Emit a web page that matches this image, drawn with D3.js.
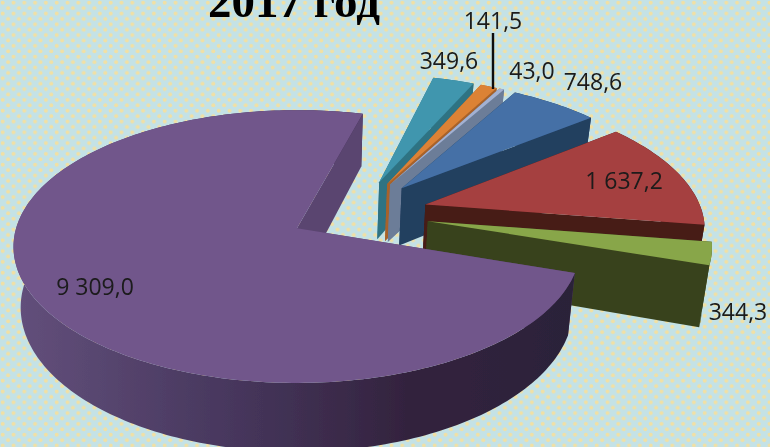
<!DOCTYPE html>
<html><head><meta charset="utf-8">
<script src="https://cdn.jsdelivr.net/npm/d3@7/dist/d3.min.js"></script>
<style>html,body{margin:0;padding:0;background:#c4e2e6;overflow:hidden}svg{display:block}</style>
</head><body>
<svg id="c" width="770" height="447"></svg>
<script>
// ---- data, clockwise order of the pie
const categories = ["a","b","c","d","e","f","g"];
const values = [9309.0, 349.6, 141.5, 43.0, 748.6, 1637.2, 344.3];
const titleText = "2017 год";

// ---- styles and layout
const topColors  = ["#71568b","#3f96ae","#dc8236","#a3b1d2","#4470a6","#a5403f","#88a64a"];
const wallColors = ["#5a4470","#2f7383","#a8622a","#6c7d98","#233f5f","#471b18","#39431c"];
const explodeBy  = [0.245,0.26,0.26,0.26,0.26,0.26,0.26];
const drawOrder = [1,2,3,4,5,6,0];
const labelPos = [[95,287],[449,61],[493,21],[532,71],[593,82],[624,181],[738,312]];

const W=770,H=447, cx=301, cy=234, Rx=282.5, Ry=135.5, k=0.135, depth=60, shrink=0.975;
const center=[0.202,-0.158];
const startDeg=108.7;

const svg=d3.select("#c");
const defs=svg.append("defs");
const pat=defs.append("pattern").attr("id","dots").attr("patternUnits","userSpaceOnUse")
  .attr("width",10.8).attr("height",10.8);
pat.append("rect").attr("width",10.8).attr("height",10.8).attr("fill","#c4e2e6");
[[2.7,2.7],[8.1,8.1]].forEach(p=>pat.append("circle").attr("cx",p[0]).attr("cy",p[1]).attr("r",2).attr("fill","#f1e0a4"));
defs.append("filter").attr("id","soft").attr("x","-5%").attr("y","-5%").attr("width","110%").attr("height","110%")
  .append("feGaussianBlur").attr("stdDeviation",0.6);
const grad=defs.append("linearGradient").attr("id","purpleWall").attr("gradientUnits","userSpaceOnUse")
  .attr("x1",12).attr("x2",575).attr("y1",0).attr("y2",0);
[[0,"#63507c"],[0.4,"#46365c"],[0.7,"#33233e"],[1,"#2b2139"]].forEach(s=>grad.append("stop").attr("offset",s[0]).attr("stop-color",s[1]));

svg.append("rect").attr("width",W).attr("height",H).attr("fill","url(#dots)");
const root=svg.append("g").attr("filter","url(#soft)");

function project(u,v){const s=1/(1-k*v);return {x:cx+Rx*u*s,y:cy+Ry*v*s,s};}
function lower(p){return {x:cx+(p.x-cx)*shrink,y:p.y+depth*p.s};}
const line=d3.line().x(d=>d.x).y(d=>d.y);

const pie=d3.pie().sort(null).startAngle(startDeg*Math.PI/180).endAngle((startDeg+360)*Math.PI/180);
const arcs=pie(values);

const slices=drawOrder.map(i=>{
  const a=arcs[i], mid=(a.startAngle+a.endAngle)/2;
  const ax=center[0]+explodeBy[i]*Math.sin(mid), ay=center[1]-explodeBy[i]*Math.cos(mid);
  const n=Math.max(4,Math.ceil((a.endAngle-a.startAngle)/0.02));
  const rim=d3.range(n+1).map(j=>{
    const t=a.startAngle+(a.endAngle-a.startAngle)*j/n;
    return project(ax+Math.sin(t),ay-Math.cos(t));
  });
  return {i,apex:project(ax,ay),rim};
});

const wall=(d,edge)=>line([d.apex,edge,lower(edge),lower(d.apex)])+"Z";
const g=root.selectAll("g.slice").data(slices).join("g").attr("class","slice");
// start wall, outer wall, end wall, top: the painter's order that hides the back faces
g.append("path").attr("d",d=>wall(d,d.rim[0])).attr("fill",d=>wallColors[d.i]);
g.append("path")
 .attr("d",d=>line(d.rim.concat(d.rim.map(lower).reverse()))+"Z")
 .attr("fill",d=>d.i===0?"url(#purpleWall)":wallColors[d.i]);
g.append("path").attr("d",d=>wall(d,d.rim[d.rim.length-1])).attr("fill",d=>wallColors[d.i]);
g.append("path")
 .attr("d",d=>line([d.apex].concat(d.rim))+"Z")
 .attr("fill",d=>topColors[d.i]);

const fmt=d3.formatLocale({decimal:",",thousands:"\u00a0",grouping:[3],currency:["",""]}).format(",.1f");
root.append("line").attr("x1",493).attr("x2",493).attr("y1",33).attr("y2",89).attr("stroke","#111").attr("stroke-width",2.4);
root.selectAll("text.v").data(values).join("text").attr("class","v")
 .attr("x",(d,i)=>labelPos[i][0]).attr("y",(d,i)=>labelPos[i][1]+8)
 .attr("text-anchor","middle").attr("font-family","'Open Sans',sans-serif").attr("font-size",23)
 .attr("fill","#1a1a1a").text(d=>fmt(d));
root.append("text").attr("x",294).attr("y",17).attr("text-anchor","middle")
 .attr("font-family","'Liberation Serif',serif").attr("font-weight","bold").attr("font-size",47)
 .attr("fill","#000").text(titleText);
</script>
</body></html>
